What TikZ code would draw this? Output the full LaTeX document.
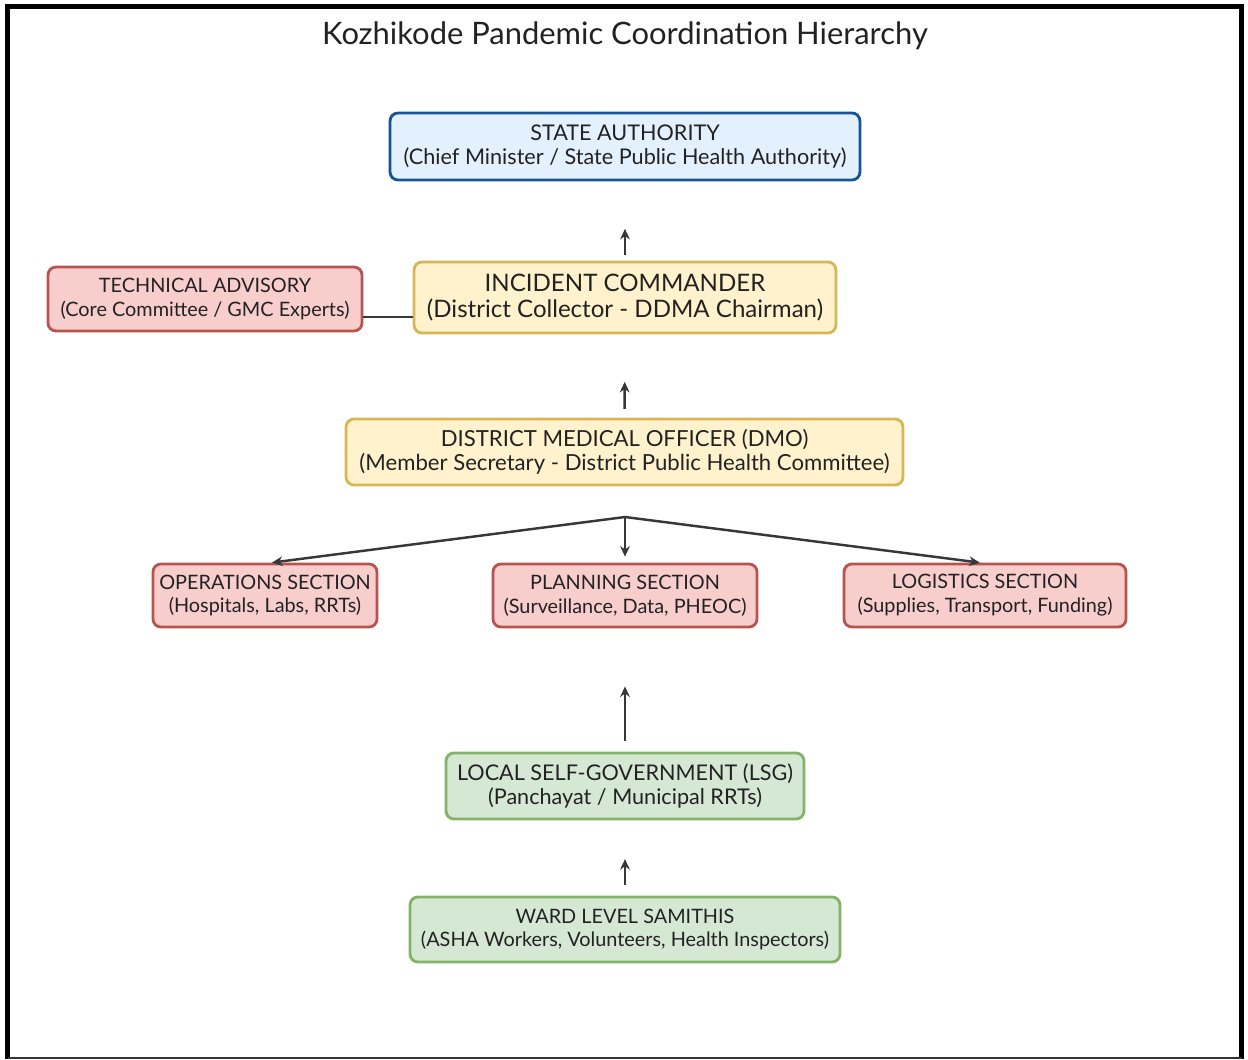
\documentclass[tikz,border=0pt]{standalone}
\usepackage{fontspec}
\setmainfont{Lato}
\usepackage{tikz}
\usetikzlibrary{arrows.meta}
\definecolor{inkgray}{RGB}{34, 34, 34}
\definecolor{arrowgray}{RGB}{55, 55, 55}
\definecolor{stateblue}{RGB}{22, 84, 150}
\definecolor{statefill}{RGB}{227, 240, 253}
\definecolor{cmdgold}{RGB}{214, 182, 86}
\definecolor{cmdfill}{RGB}{255, 242, 204}
\definecolor{secred}{RGB}{184, 84, 80}
\definecolor{secfill}{RGB}{248, 206, 204}
\definecolor{localgreen}{RGB}{130, 179, 102}
\definecolor{localfill}{RGB}{213, 232, 212}

\begin{document}
\begin{tikzpicture}[x=0.02cm, y=-0.02cm, >={Stealth[length=6pt, width=5.5pt]},
  box/.style={draw, rounded corners=4.5pt, line width=1.6pt, align=center,
              text=inkgray, inner sep=0pt, font=\fontsize{12.3}{13.6}\selectfont},
  statebox/.style={box, draw=stateblue, fill=statefill},
  cmdbox/.style={box, draw=cmdgold, fill=cmdfill},
  secbox/.style={box, draw=secred, fill=secfill, font=\fontsize{11.3}{13.6}\selectfont},
  localbox/.style={box, draw=localgreen, fill=localfill},
  link/.style={arrowgray, line width=1.4pt}]
  \useasboundingbox (0,0) rectangle (1248,1059);
  \draw[line width=0.1cm] (7.5,1059) -- (7.5,6.5) -- (1241.5,6.5) -- (1241.5,1059);
  \draw[line width=0.04cm, black!80] (7.5,1057.5) -- (1241.5,1057.5);

  \node (title) at (625,36) [text=inkgray, font=\fontsize{17.6}{20}\selectfont]
        {Kozhikode Pandemic Coordination Hierarchy};

  \node[statebox, minimum width=9.4cm, minimum height=1.34cm] (state) at (625,146.5)
        {STATE AUTHORITY\\(Chief Minister / State Public Health Authority)};
  \node[cmdbox, minimum width=8.44cm, minimum height=1.42cm,
        font=\fontsize{13.7}{14.9}\selectfont] (cmd) at (625,297.5)
        {INCIDENT COMMANDER\\(District Collector - DDMA Chairman)};
  \node[secbox, minimum width=6.28cm, minimum height=1.28cm] (tech) at (205,299)
        {TECHNICAL ADVISORY\\(Core Committee / GMC Experts)};
  \node[cmdbox, minimum width=11.14cm, minimum height=1.32cm,
        font=\fontsize{12.6}{13.6}\selectfont] (dmo) at (624.5,452)
        {DISTRICT MEDICAL OFFICER (DMO)\\(Member Secretary - District Public Health Committee)};

  \node[secbox, minimum width=4.48cm, minimum height=1.26cm] (ops) at (265,595.5)
        {OPERATIONS SECTION\\(Hospitals, Labs, RRTs)};
  \node[secbox, minimum width=5.28cm, minimum height=1.26cm] (plan) at (625,595.5)
        {PLANNING SECTION\\(Surveillance, Data, PHEOC)};
  \node[secbox, minimum width=5.64cm, minimum height=1.26cm] (logi) at (985,595.5)
        {LOGISTICS SECTION\\(Supplies, Transport, Funding)};

  \node[localbox, minimum width=7.16cm, minimum height=1.32cm] (lsg) at (625,786)
        {LOCAL SELF-GOVERNMENT (LSG)\\(Panchayat / Municipal RRTs)};
  \node[localbox, minimum width=8.6cm, minimum height=1.3cm,
        font=\fontsize{11.3}{13.6}\selectfont] (ward) at (625,929.5)
        {WARD LEVEL SAMITHIS\\(ASHA Workers, Volunteers, Health Inspectors)};

  \draw[link, ->, shorten <=3.4pt, shorten >=27pt] (cmd.north) -- (state.south);
  \draw[link, line width=1.1pt] ([yshift=-10pt]tech.east) -- ([yshift=-10pt]tech.east -| cmd.west);
  \draw[link, ->, shorten <=5pt, shorten >=27pt] (dmo.north) -- (cmd.south);

  \coordinate (fork) at (625,517);
  \draw[link, ->] (fork) -- ([xshift=4pt]ops.north);
  \draw[link, ->, shorten >=3.4pt] (fork) -- (plan.north);
  \draw[link, ->] (fork) -- ([xshift=-3pt]logi.north);

  \draw[link, ->, shorten <=6pt, shorten >=33pt] (lsg.north) -- (plan.south);
  \draw[link, ->, shorten <=6pt, shorten >=22pt] (ward.north) -- (lsg.south);
\end{tikzpicture}
\end{document}
